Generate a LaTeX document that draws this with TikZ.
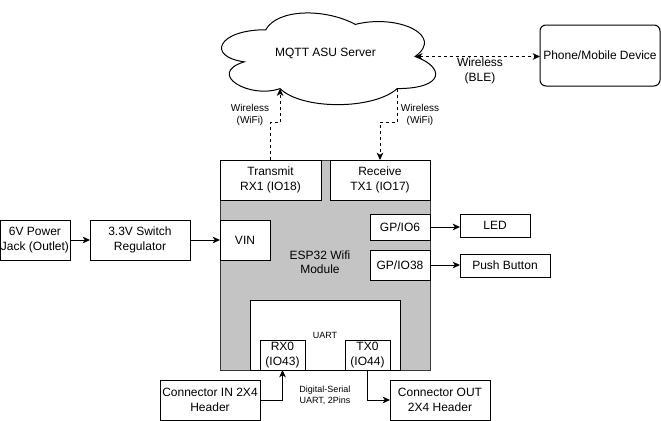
\documentclass[tikz,border=0pt]{standalone}
\usepackage{fontspec}
\setmainfont{Liberation Sans}
\usetikzlibrary{arrows.meta,calc}
\definecolor{espfill}{RGB}{196,196,196}
\definecolor{espline}{RGB}{54,57,61}
\newcommand\pxbox[7]{\node[#1, minimum width={(#4-#2)*0.75pt}, minimum height={(#5-#3)*0.75pt}] (#6) at ({(#2+#4)/2},{(#3+#5)/2}) {#7};}
\begin{document}
\begin{tikzpicture}[x=0.75pt,y=-0.75pt,
  >={Stealth[length=5.5pt,width=5pt,inset=1.6pt]},
  every node/.style={font=\fontsize{9}{10.8}\selectfont, inner sep=0pt, outer sep=0pt, align=center},
  box/.style={draw=black, line width=0.75pt, fill=white},
  espbox/.style={draw=espline, line width=0.75pt, fill=espfill},
  conn/.style={line width=0.75pt, ->},
  dashconn/.style={line width=0.75pt, dash pattern=on 2.25pt off 2.25pt},
  small/.style={font=\fontsize{7.5}{9}\selectfont},
  tiny/.style={font=\fontsize{6.75}{8.1}\selectfont},
]
\useasboundingbox (0,0) rectangle (661,421);

% cloud
\begin{scope}[shift={(206,3)}, xscale=239, yscale=107]
  \draw[line width=0.75pt, fill=white]
    (0.25,0.25) .. controls (0.05,0.25) and (0,0.5) .. (0.16,0.55)
    .. controls (0,0.66) and (0.18,0.9) .. (0.31,0.8)
    .. controls (0.4,1) and (0.7,1) .. (0.8,0.8)
    .. controls (1,0.8) and (1,0.6) .. (0.875,0.5)
    .. controls (1,0.3) and (0.8,0.1) .. (0.625,0.2)
    .. controls (0.5,0.05) and (0.3,0.05) .. (0.25,0.25) -- cycle;
  \coordinate (cA) at (0.31,0.8);
  \coordinate (cB) at (0.8,0.8);
  \coordinate (cR) at (0.875,0.5);
\end{scope}
\node (cloud) at (325.5,53) {MQTT ASU Server};

% ESP32 module
\pxbox{espbox}{220}{160}{430}{370}{esp}{}
\node (esplabel) at (320,262) {ESP32 Wifi\\Module};
\pxbox{box}{220}{160}{321}{200}{tx}{Transmit\\RX1 (IO18)}
\pxbox{box}{330}{160}{430}{200}{rx}{Receive\\TX1 (IO17)}
\pxbox{box}{220}{220}{270}{260}{vin}{VIN}
\pxbox{box}{370}{214}{430}{240}{gpa}{GP/IO6}
\pxbox{box}{370}{250}{430}{280}{gpb}{GP/IO38}
\pxbox{box}{250}{300}{400}{370}{uart}{}
\node[tiny] (uartlabel) at (325,335) {UART};
\pxbox{box}{260}{340}{305}{370}{rxo}{RX0\\(IO43)}
\pxbox{box}{345}{340}{390}{370}{txo}{TX0\\(IO44)}

% outside boxes
\pxbox{box}{0}{220}{70}{260}{pwr}{6V Power\\Jack (Outlet)}
\pxbox{box}{90}{220}{190}{260}{reg}{3.3V Switch\\Regulator}
\pxbox{box}{460}{214}{530}{237}{led}{LED}
\pxbox{box}{460}{254}{550}{277}{push}{Push Button}
\pxbox{box}{160}{380}{260}{420}{cin}{Connector IN 2X4\\Header}
\pxbox{box}{390}{380}{490}{420}{cout}{Connector OUT\\2X4 Header}
\pxbox{box,rounded corners=4.5pt}{540}{25}{660}{86}{phone}{Phone/Mobile Device}

% connectors
\draw[dashconn,->] (tx.north) -- (tx.north |- 0,122) -| (cA);
\draw[dashconn,->] (cB) -- (cB |- 0,122) -| (rx.north);
\draw[dashconn,<->] (cR) -- (cR -| phone.west);
\node[small] (wifia) at (250,115) {Wireless\\(WiFi)};
\node[small] (wifib) at (420,115) {Wireless\\(WiFi)};
\node (ble) at (480,71) {Wireless\\(BLE)};

\draw[conn] (pwr.east) -- (reg.west);
\draw[conn] (reg.east) -- (vin.west);
\draw[conn] (gpa.east) -- (gpa.east -| led.west);
\draw[conn] (gpb.east) -- (gpb.east -| push.west);
\draw[conn] (cin.east) -| (rxo.south);
\draw[conn] (txo.south) |- (cout.west);
\node[tiny] (serial) at (325,395.5) {Digital-Serial\\UART, 2Pins};
\end{tikzpicture}
\end{document}
